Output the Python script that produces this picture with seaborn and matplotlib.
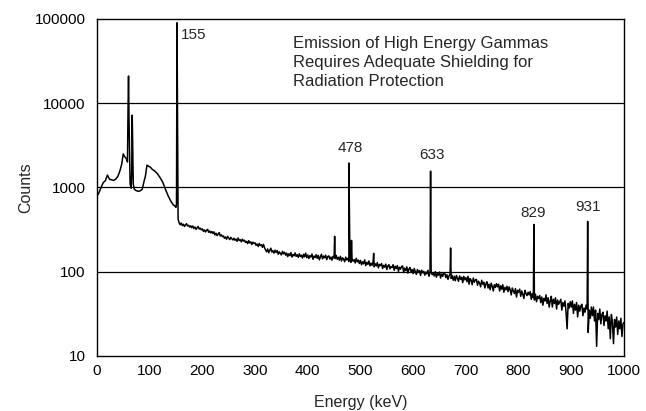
import numpy as np
import pandas as pd
import matplotlib
matplotlib.use("Agg")
import matplotlib.pyplot as plt
import seaborn as sns

# ---- data ----
low_energy = [2, 5, 8, 12, 16, 20, 24, 28, 32, 36, 40, 44, 47, 50, 53, 56, 58, 59, 60, 61,
              63, 65, 66, 67, 68, 69, 71, 74, 78, 82, 86, 89, 92, 95, 98, 101, 105, 110,
              115, 120, 125, 130, 135, 140, 145, 148, 150, 151, 152, 153, 154, 156, 158]
low_counts = [820, 900, 1000, 1140, 1200, 1400, 1250, 1230, 1210, 1260, 1360, 1600, 1880,
              2500, 2300, 2200, 2000, 8000, 21000, 6000, 1100, 980, 1500, 7200, 3000, 1100,
              950, 920, 900, 910, 950, 1150, 1360, 1840, 1780, 1750, 1640, 1560, 1450, 1300,
              1150, 950, 800, 690, 620, 600, 580, 640, 90000, 5000, 420, 380, 360]

cont_energy = list(range(160, 1001, 2))
cont_counts = [
    378, 352, 366, 344, 359, 371, 348, 355, 339, 350,   # 160
    333, 348, 325, 339, 318, 331, 344, 321, 329, 314,   # 180
    322, 301, 314, 296, 309, 318, 293, 304, 288, 300,   # 200
    284, 297, 273, 286, 268, 280, 291, 265, 274, 260,   # 220
    266, 249, 258, 243, 262, 251, 240, 255, 246, 238,   # 240
    249, 236, 244, 229, 251, 234, 240, 226, 243, 231,   # 260
    236, 222, 229, 215, 233, 219, 226, 210, 224, 216,   # 280
    220, 205, 213, 199, 216, 204, 209, 195, 211, 192,   # 300
    181, 172, 186, 168, 179, 190, 171, 177, 166, 180,   # 320
    169, 178, 161, 172, 165, 158, 174, 163, 170, 157,   # 340
    166, 151, 163, 155, 169, 149, 160, 154, 167, 152,   # 360
    159, 148, 163, 151, 157, 145, 161, 150, 166, 147,   # 380
    158, 143, 155, 149, 162, 140, 153, 147, 159, 144,   # 400
    156, 138, 150, 161, 142, 153, 146, 157, 139, 151,   # 420
    154, 141, 149, 137, 152, 146, 143, 156, 140, 148,   # 440
    137, 152, 134, 146, 141, 131, 149, 138, 144, 132,   # 460
    146, 129, 142, 133, 139, 127, 144, 131, 137, 125,   # 480
    136, 121, 131, 124, 138, 118, 129, 122, 134, 117,   # 500
    126, 119, 131, 114, 124, 117, 128, 111, 122, 118,   # 520
    125, 109, 119, 113, 123, 106, 117, 121, 108, 115,   # 540
    112, 121, 104, 116, 109, 118, 101, 113, 107, 115,   # 560
    117, 98, 110, 103, 114, 96, 108, 112, 99, 106,      # 580
    95, 109, 100, 93, 106, 98, 103, 90, 104, 97,        # 600
    101, 91, 99, 94, 104, 88, 98, 102, 92, 96,          # 620
    89, 100, 86, 95, 91, 99, 84, 94, 88, 97,            # 640
    95, 85, 92, 81, 89, 94, 83, 90, 79, 88,             # 660
    78, 90, 83, 77, 89, 81, 86, 74, 88, 80,             # 680
    85, 76, 88, 71, 83, 79, 70, 84, 75, 80,             # 700
    81, 69, 77, 73, 66, 79, 71, 75, 64, 72,             # 720
    76, 64, 71, 61, 73, 67, 59, 70, 65, 72,             # 740
    66, 71, 59, 68, 62, 70, 57, 65, 61, 67,             # 760
    58, 66, 61, 53, 64, 59, 55, 63, 50, 60,             # 780
    57, 62, 51, 59, 54, 48, 60, 55, 52, 57,             # 800
    53, 58, 47, 55, 49, 46, 54, 44, 51, 48,             # 820
    52, 43, 50, 40, 48, 45, 53, 42, 49, 38,             # 840
    45, 51, 38, 47, 42, 49, 36, 46, 41, 44,             # 860
    47, 35, 43, 39, 45, 33, 21, 42, 37, 44,             # 880
    38, 45, 32, 41, 35, 43, 29, 40, 34, 39,             # 900
    41, 30, 37, 33, 40, 36, 19, 35, 28, 38,             # 920
    30, 38, 26, 35, 13, 32, 27, 36, 24, 31,             # 940
    33, 23, 30, 26, 34, 21, 29, 16, 31, 25,             # 960
    14, 27, 22, 29, 18, 26, 21, 28, 17, 24,             # 980
    25]

peak_energy = [451, 478, 483, 525, 633, 671, 829, 931]
peak_counts = [263, 1950, 235, 165, 1560, 191, 363, 395]

label_text = ["155", "478", "633", "829", "931"]
label_x = [159, 480, 636, 827, 932]
label_y = [65000, 2900, 2450, 500, 590]

note = ("Emission of High Energy Gammas\n"
        "Requires Adequate Shielding for\n"
        "Radiation Protection")

y_ticks = [10, 100, 1000, 10000, 100000]
y_tick_labels = ["10", "100", "1000", "10000", "100000"]
x_ticks = [0, 100, 200, 300, 400, 500, 600, 700, 800, 900, 1000]

assert len(cont_energy) == len(cont_counts), (len(cont_energy), len(cont_counts))

# ---- build table ----
df = pd.DataFrame({
    "Energy": low_energy + cont_energy + peak_energy,
    "Counts": low_counts + cont_counts + peak_counts,
}).sort_values("Energy").reset_index(drop=True)

sns.set_style("white")
plt.rcParams["font.family"] = ["Liberation Sans", "DejaVu Sans"]

fig = plt.figure(figsize=(6.46, 4.11), dpi=100)
ax = fig.add_axes([0.150, 0.134, 0.816, 0.820])

sns.lineplot(data=df, x="Energy", y="Counts", ax=ax, color="black",
             linewidth=1.1, estimator=None, sort=True)

ax.set_yscale("log")
ax.set_ylim(10, 100000)
ax.set_xlim(0, 1000)
ax.set_yticks(y_ticks)
ax.set_yticklabels(y_tick_labels)
ax.set_xticks(x_ticks)
ax.set_xticklabels([str(t) for t in x_ticks])
ax.yaxis.set_minor_locator(matplotlib.ticker.NullLocator())
ax.tick_params(axis="both", length=0, labelsize=11, colors="black")
ax.tick_params(axis="y", pad=8)
ax.tick_params(axis="x", pad=6)

for yv in [100, 1000, 10000]:
    ax.axhline(yv, color="black", linewidth=0.9, zorder=0)

for s in ax.spines.values():
    s.set_color("black")
    s.set_linewidth(1.0)

ax.set_xlabel("Energy (keV)", fontsize=11.5, labelpad=12)
ax.set_ylabel("Counts", fontsize=11.5, labelpad=1)

for t, xv, yv in zip(label_text, label_x, label_y):
    ha = "left" if t == "155" else "center"
    ax.text(xv, yv, t, fontsize=11, ha=ha, va="center")

ax.text(0.372, 0.950, note, transform=ax.transAxes, fontsize=12,
        ha="left", va="top", linespacing=1.36)

fig.savefig("out.png", dpi=100)
